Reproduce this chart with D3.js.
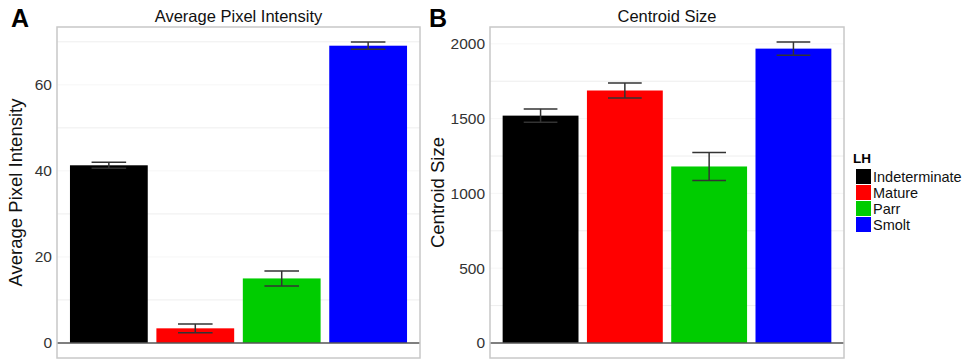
<!DOCTYPE html>
<html>
<head>
<meta charset="utf-8">
<script src="https://cdn.jsdelivr.net/npm/d3@7"></script>
<style>
  body { margin:0; background:#fff; }
  svg { font-family: "Liberation Sans", Arial, sans-serif; }
</style>
</head>
<body>
<div id="canvas"></div>
<script>
// data
var groups = ['Indeterminate','Mature','Parr','Smolt'];
var colors = ['#000000','#ff0000','#00cc00','#0000ff'];
var intensityMean = [41.3, 3.4, 15.0, 69.1];
var intensitySE   = [0.7, 1.0, 1.75, 0.85];
var centroidMean  = [1520, 1688, 1180, 1968];
var centroidSE    = [45, 50, 93, 44];
var intensityTicks = [0, 20, 40, 60];
var centroidTicks  = [0, 500, 1000, 1500, 2000];

var W = 964, H = 361;
var svg = d3.select('#canvas').append('svg')
    .attr('width', W).attr('height', H);

function panel(opt){
    var m = opt.box; // l,r,t,b
    var g = svg.append('g');

    // ggplot-style 5% expansion around [0, max(mean+se)]
    var top = d3.max(opt.mean, function(d,i){ return d + opt.se[i]; });
    var pad = top * 0.05;
    var y = d3.scaleLinear().domain([-pad, top + pad]).range([m.b, m.t]);

    // discrete x with 0.6 unit expansion
    var x = d3.scaleLinear().domain([0.4, 4.6]).range([m.l, m.r]);
    var unit = x(1) - x(0);

    // grid lines (very faint)
    var step = opt.ticks[1] - opt.ticks[0];
    var minor = d3.range(step/2, top + pad, step);
    g.selectAll('.minor').data(minor).enter().append('line')
        .attr('x1', m.l).attr('x2', m.r)
        .attr('y1', y).attr('y2', y)
        .attr('stroke', '#eeeeee').attr('stroke-width', 1);
    g.selectAll('.major').data(opt.ticks.slice(1)).enter().append('line')
        .attr('x1', m.l).attr('x2', m.r)
        .attr('y1', y).attr('y2', y)
        .attr('stroke', '#f6f6f6').attr('stroke-width', 1);

    // bars
    g.selectAll('.bar').data(opt.mean).enter().append('rect')
        .attr('x', function(d,i){ return x(i+1) - unit*0.45; })
        .attr('width', unit*0.9)
        .attr('y', function(d){ return y(d); })
        .attr('height', function(d){ return y(0) - y(d); })
        .attr('fill', function(d,i){ return colors[i]; });

    // error bars
    var eb = g.selectAll('.err').data(opt.mean).enter().append('g')
        .attr('stroke', '#333').attr('stroke-width', 1.5);
    eb.append('line')
        .attr('x1', function(d,i){ return x(i+1); })
        .attr('x2', function(d,i){ return x(i+1); })
        .attr('y1', function(d,i){ return y(d + opt.se[i]); })
        .attr('y2', function(d,i){ return y(d - opt.se[i]); });
    eb.append('line')
        .attr('x1', function(d,i){ return x(i+1) - unit*0.2; })
        .attr('x2', function(d,i){ return x(i+1) + unit*0.2; })
        .attr('y1', function(d,i){ return y(d + opt.se[i]); })
        .attr('y2', function(d,i){ return y(d + opt.se[i]); });
    eb.append('line')
        .attr('x1', function(d,i){ return x(i+1) - unit*0.2; })
        .attr('x2', function(d,i){ return x(i+1) + unit*0.2; })
        .attr('y1', function(d,i){ return y(d - opt.se[i]); })
        .attr('y2', function(d,i){ return y(d - opt.se[i]); });

    // zero line
    g.append('line')
        .attr('x1', m.l).attr('x2', m.r)
        .attr('y1', y(0)).attr('y2', y(0))
        .attr('stroke', '#555').attr('stroke-width', 1.5);

    // panel border
    g.append('rect')
        .attr('x', m.l).attr('y', m.t)
        .attr('width', m.r - m.l).attr('height', m.b - m.t)
        .attr('fill', 'none').attr('stroke', '#c8c8c8').attr('stroke-width', 1.5);

    // y axis labels
    var axisY = d3.axisLeft(y).tickValues(opt.ticks).tickFormat(d3.format('d'))
        .tickSize(0).tickPadding(0);
    var ax = g.append('g').attr('transform', 'translate(' + (m.l - 5) + ',0)').call(axisY);
    ax.select('.domain').remove();
    ax.selectAll('text').attr('font-size', 15.5).attr('fill', '#333')
        .style('font-family', '"Liberation Sans", Arial, sans-serif');

    // title
    g.append('text')
        .attr('x', (m.l + m.r)/2).attr('y', 22)
        .attr('text-anchor', 'middle').attr('font-size', 16.5).attr('fill', '#111')
        .text(opt.title);

    // y title
    g.append('text')
        .attr('transform', 'translate(' + opt.ytx + ',' + (m.t + m.b)/2 + ') rotate(-90)')
        .attr('text-anchor', 'middle').attr('font-size', 18.5).attr('fill', '#111')
        .text(opt.title);

    // panel letter
    g.append('text')
        .attr('x', opt.lx).attr('y', 27)
        .attr('font-size', 25).attr('font-weight', 'bold')
        .text(opt.letter);
}

panel({box:{l:57, r:420, t:27, b:358}, mean:intensityMean, se:intensitySE,
       ticks:intensityTicks, title:'Average Pixel Intensity', ytx:22, lx:11, letter:'A'});
panel({box:{l:490, r:844, t:27, b:358}, mean:centroidMean, se:centroidSE,
       ticks:centroidTicks, title:'Centroid Size', ytx:444, lx:429, letter:'B'});

// legend
var leg = svg.append('g').attr('transform', 'translate(853,163)');
leg.append('text').attr('x', 0).attr('y', 0)
    .attr('font-size', 13.5).attr('font-weight', 'bold').text('LH');
var item = leg.selectAll('.item').data(groups).enter().append('g')
    .attr('transform', function(d,i){ return 'translate(3,' + (6 + i*16) + ')'; });
item.append('rect')
    .attr('width', 15).attr('height', 15)
    .attr('fill', function(d,i){ return colors[i]; });
item.append('text')
    .attr('x', 17).attr('y', 12.5)
    .attr('font-size', 14.5).attr('fill', '#111')
    .text(function(d){ return d; });
</script>
</body>
</html>
